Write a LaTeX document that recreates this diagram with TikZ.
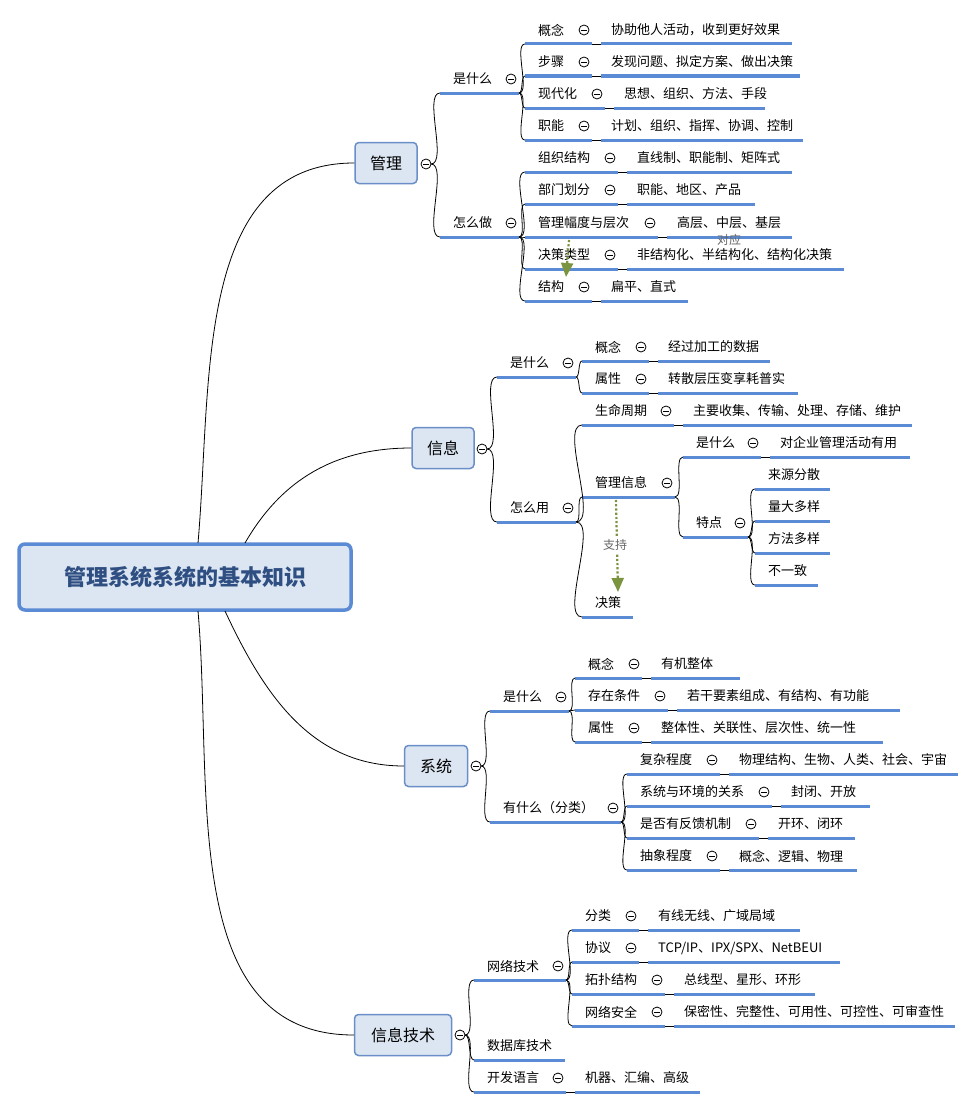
\documentclass[tikz,border=0pt]{standalone}
\usepackage{fontspec}
\setmainfont{Noto Sans CJK SC}
\usetikzlibrary{calc,arrows.meta}
\definecolor{ln}{HTML}{5B8BD4}
\definecolor{thin}{HTML}{7FA3DB}
\definecolor{bfill}{HTML}{DCE6F2}
\definecolor{bdraw}{HTML}{6A8FC8}
\definecolor{mtext}{HTML}{2F4F82}
\definecolor{grn}{HTML}{7A9440}
\tikzset{
 ul/.style={ln,line width=3pt},
 cn/.style={thin,line width=0.8pt},
 mn/.style={thin,line width=0.8pt},
 tx/.style={anchor=west,inner sep=0pt,font=\fontsize{13}{13}\selectfont},
 l1/.style={draw=bdraw,fill=bfill,line width=1.5pt,rounded corners=4pt,minimum height=41pt,font=\fontsize{16}{16}\selectfont},
 dar/.style={grn,line width=2.2pt,dotted,-{Triangle[width=12pt,length=14pt,fill=grn]}},
 dlab/.style={inner sep=0pt,font=\fontsize{12}{12}\selectfont\itshape,text=gray!80!black}
}
\newcommand\mnus[2]{\draw[mn,fill=white] (#1,#2) circle (5); \draw[mn] (#1-3,#2)--(#1+3,#2);}
\newcommand\pr[5]{%
 \coordinate (#1s) at (#2,#3); \coordinate (#1e) at (#5+8,#3);
 \draw[ul] (#1s)--(#1e);
 \node[tx] (#1t) at (#2+13,#3-14) {#4};
 \mnus{#5}{#3-14}}
\newcommand\rw[7]{\pr{#1}{#2}{#3}{#4}{#5}%
 \coordinate (#1v) at (#5+17,#3); \coordinate (#1w) at (#7,#3);
 \draw[cn] (#1e)--(#1v); \draw[ul] (#1v)--(#1w);
 \node[tx] (#1val) at (#5+27,#3-14) {#6};}
\newcommand\lf[5]{\coordinate (#1s) at (#2,#3); \coordinate (#1e) at (#5,#3);
 \draw[ul] (#1s)--(#1e); \node[tx] (#1t) at (#2+13,#3-14) {#4};}
\newcommand\cc[2]{\draw[cn] (#1) to[out=0,in=180,looseness=0.6] (#2);}
\begin{document}
\begin{tikzpicture}[x=1pt,y=-1pt]
\useasboundingbox[fill=white] (0,0) rectangle (977,1108);
% main
\node[draw=ln,fill=bfill,line width=3.5pt,rounded corners=6pt,minimum width=332pt,minimum height=66pt,font=\fontsize{22}{22}\selectfont\bfseries,text=mtext] (main) at (185,577) {管理系统系统的基本知识};
\node[l1,minimum width=62pt] (G) at (386,163) {管理};
\node[l1,minimum width=62pt] (X) at (443,448) {信息};
\node[l1,minimum width=63pt] (S) at (436,766) {系统};
\node[l1,minimum width=97pt] (T) at (403,1035) {信息技术};
\draw[cn] (198,543) to[out=85,in=180] (G.west);
\draw[cn] (245,543) to[out=60,in=180] (X.west);
\draw[cn] (225,611) to[out=-65,in=180] (S.west);
\draw[cn] (198,611) to[out=-85,in=180] (T.west);
\mnus{426}{164}\coordinate (Gm) at (431,164);
\mnus{482}{449}\coordinate (Xm) at (487,449);
\mnus{476}{766}\coordinate (Sm) at (481,766);
\mnus{460}{1035}\coordinate (Tm) at (465,1035);
% ---- 管理
\pr{a}{440}{93}{是什么}{511}
\pr{b}{440}{237}{怎么做}{511}
\cc{Gm}{as}\cc{Gm}{bs}
\rw{a1}{525}{44}{概念}{584}{协助他人活动，收到更好效果}{792}
\rw{a2}{525}{76}{步骤}{584}{发现问题、拟定方案、做出决策}{800}
\rw{a3}{525}{108}{现代化}{597}{思想、组织、方法、手段}{765}
\rw{a4}{525}{140}{职能}{584}{计划、组织、指挥、协调、控制}{803}
\foreach \i in {1,...,4}{\cc{ae}{a\i s}}
\rw{b1}{525}{172}{组织结构}{610}{直线制、职能制、矩阵式}{792}
\rw{b2}{525}{204}{部门划分}{610}{职能、地区、产品}{755}
\rw{b3}{525}{237}{管理幅度与层次}{650}{高层、中层、基层}{792}
\rw{b4}{525}{269}{决策类型}{610}{非结构化、半结构化、结构化决策}{844}
\rw{b5}{525}{301}{结构}{584}{扁平、直式}{688}
\foreach \i in {1,...,5}{\cc{be}{b\i s}}
\coordinate (d1a) at (569,240); \coordinate (d1b) at (566,277);
\draw[dar] (d1a) -- (d1b);
\node[dlab] (d1l) at (729,240) {对应};
% ---- 信息
\pr{c}{497}{377}{是什么}{568}
\pr{d}{497}{522}{怎么用}{568}
\cc{Xm}{cs}\cc{Xm}{ds}
\rw{c1}{582}{361}{概念}{641}{经过加工的数据}{770}
\rw{c2}{582}{393}{属性}{641}{转散层压变享耗普实}{798}
\cc{ce}{c1s}\cc{ce}{c2s}
\rw{d1}{582}{425}{生命周期}{666}{主要收集、传输、处理、存储、维护}{912}
\pr{d2}{582}{497}{管理信息}{667}
\lf{d3}{582}{617}{决策}{633}
\cc{de}{d1s}\cc{de}{d2s}\cc{de}{d3s}
\rw{e1}{683}{457}{是什么}{753}{对企业管理活动有用}{910}
\pr{e2}{683}{537}{特点}{740}
\cc{d2e}{e1s}\cc{d2e}{e2s}
\lf{f1}{755}{489}{来源分散}{830}
\lf{f2}{755}{521}{量大多样}{830}
\lf{f3}{755}{553}{方法多样}{830}
\lf{f4}{755}{585}{不一致}{818}
\foreach \i in {1,...,4}{\cc{e2e}{f\i s}}
\coordinate (d2a) at (616,500); \coordinate (d2b) at (618,592);
\draw[dar] (d2a) -- (d2b);
\node[dlab,fill=white,inner sep=2pt] (d2l) at (615,545) {支持};
% ---- 系统
\pr{g}{490}{711}{是什么}{561}
\pr{h}{490}{822}{有什么（分类）}{613}
\cc{Sm}{gs}\cc{Sm}{hs}
\rw{g1}{575}{678}{概念}{634}{有机整体}{740}
\rw{g2}{575}{710}{存在条件}{660}{若干要素组成、有结构、有功能}{900}
\rw{g3}{575}{742}{属性}{634}{整体性、关联性、层次性、统一性}{883}
\foreach \i in {1,...,3}{\cc{ge}{g\i s}}
\rw{h1}{627}{774}{复杂程度}{712}{物理结构、生物、人类、社会、宇宙}{958}
\rw{h2}{627}{806}{系统与环境的关系}{764}{封闭、开放}{870}
\rw{h3}{627}{838}{是否有反馈机制}{751}{开环、闭环}{855}
\rw{h4}{627}{870}{抽象程度}{712}{概念、逻辑、物理}{857}
\foreach \i in {1,...,4}{\cc{he}{h\i s}}
% ---- 信息技术
\pr{k}{474}{980}{网络技术}{558}
\lf{m}{474}{1060}{数据库技术}{565}
\rw{n}{474}{1092}{开发语言}{558}{机器、汇编、高级}{700}
\cc{Tm}{ks}\cc{Tm}{ms}\cc{Tm}{ns}
\rw{k1}{572}{930}{分类}{631}{有线无线、广域局域}{800}
\rw{k2}{572}{962}{协议}{631}{TCP/IP、IPX/SPX、NetBEUI}{840}
\rw{k3}{572}{994}{拓扑结构}{657}{总线型、星形、环形}{815}
\rw{k4}{572}{1026}{网络安全}{657}{保密性、完整性、可用性、可控性、可审查性}{955}
\foreach \i in {1,...,4}{\cc{ke}{k\i s}}
\end{tikzpicture}
\end{document}
